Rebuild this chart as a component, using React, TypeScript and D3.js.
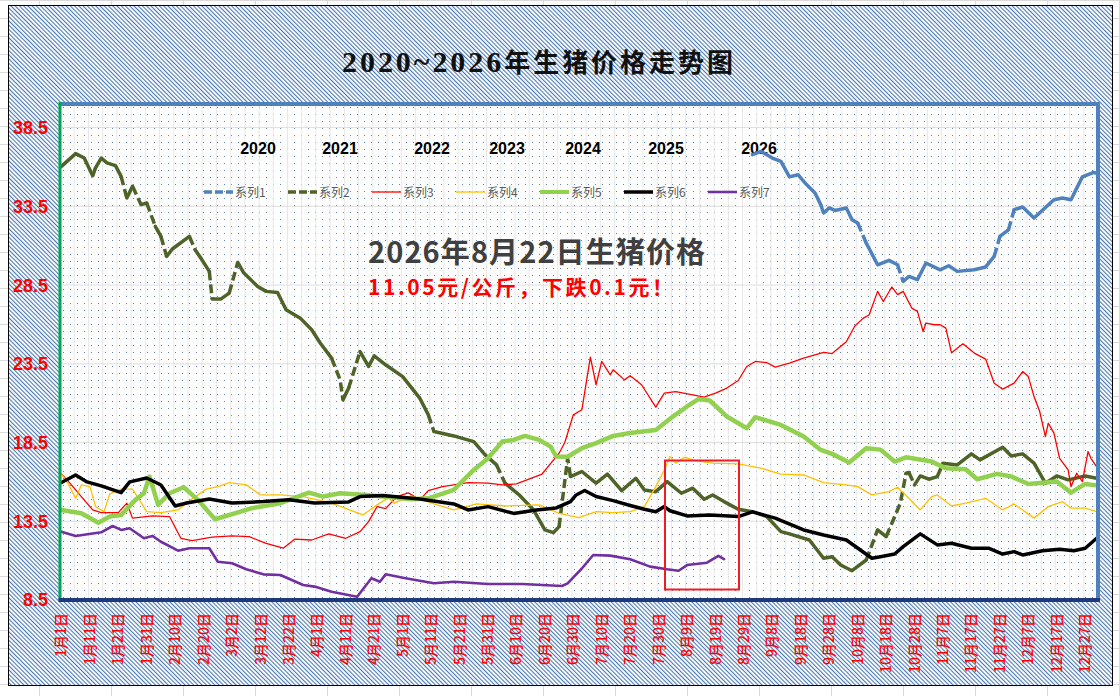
import React from 'react';
import * as d3 from 'd3';

// ---- data (day index 0..364, price 元/公斤) ----
const seriesNames = ['系列1', '系列2', '系列3', '系列4', '系列5', '系列6', '系列7'];
const yearLabels = ['2020', '2021', '2022', '2023', '2024', '2025', '2026'];
const yTicks = [8.5, 13.5, 18.5, 23.5, 28.5, 33.5, 38.5];
const dateLabels = [
    '1月1日', '1月11日', '1月21日', '1月31日', '2月10日', '2月20日', '3月2日', '3月12日', '3月22日',
    '4月1日', '4月11日', '4月21日', '5月1日', '5月11日', '5月21日', '5月31日', '6月10日', '6月20日',
    '6月30日', '7月10日', '7月20日', '7月30日', '8月9日', '8月19日', '8月29日', '9月8日', '9月18日',
    '9月28日', '10月8日', '10月18日', '10月28日', '11月7日', '11月17日', '11月27日', '12月7日',
    '12月17日', '12月27日',
];

type Pt = [number, number];

const s1: Pt[] = [
    [243, 36.78], [246, 36.99], [250, 36.57], [253, 36.36], [256, 35.37], [259, 35.51], [262, 34.88],
    [265, 34.35], [267, 33.61], [268, 33.08], [270, 33.4], [272, 33.24], [276, 33.4], [278, 32.65],
    [280, 32.44], [283, 31.17], [287, 29.79], [291, 30.07], [294, 29.79], [296, 28.73], [298, 29.05],
    [301, 28.84], [304, 29.9], [309, 29.47], [312, 29.73], [315, 29.37], [321, 29.47], [325, 29.65],
    [328, 30.32], [330, 31.59], [333, 32.0], [335, 33.29], [338, 33.46], [342, 32.76], [349, 33.92],
    [352, 34.03], [355, 33.92], [359, 35.37], [363, 35.66], [364, 35.6],
];

const s2: Pt[] = [
    [0, 36.04], [5, 36.85], [8, 36.57], [11, 35.45], [12, 35.94], [14, 36.57], [16, 36.26], [19, 36.09],
    [21, 35.4], [23, 34.03], [25, 34.77], [28, 33.61], [30, 33.71], [33, 32.23], [35, 31.59], [37, 30.32],
    [39, 30.79], [45, 31.59], [47, 30.75], [49, 30.22], [52, 29.37], [53, 27.61], [56, 27.61], [59, 27.99],
    [62, 29.94], [64, 29.3], [69, 28.41], [72, 28.1], [76, 28.03], [79, 26.93], [84, 26.4], [88, 25.66],
    [91, 24.82], [95, 23.86], [98, 22.48], [99, 21.21], [101, 21.96], [105, 24.28], [108, 23.33],
    [110, 24.01], [114, 23.44], [120, 22.69], [126, 21.32], [129, 20.26], [131, 19.2], [138, 18.92],
    [145, 18.56], [149, 17.72], [153, 17.08], [156, 15.92], [161, 15.17], [166, 14.22], [170, 12.95],
    [173, 12.78], [175, 13.16], [178, 17.5], [179, 16.34], [183, 16.66], [188, 15.92], [192, 16.5],
    [197, 15.45], [202, 16.23], [205, 15.49], [209, 15.38], [213, 16.02], [218, 15.28], [222, 15.6],
    [226, 14.9], [229, 15.17], [233, 14.75], [238, 14.26], [243, 14.11], [248, 13.8], [253, 12.84],
    [256, 12.7], [263, 12.31], [268, 11.15], [271, 11.25], [274, 10.72], [278, 10.36], [283, 11.04],
    [287, 12.95], [290, 12.52], [295, 14.65], [297, 16.55], [298, 16.6], [300, 15.81], [302, 16.38],
    [305, 16.17], [308, 16.34], [310, 17.19], [315, 17.08], [320, 17.78], [323, 17.4], [331, 18.2],
    [334, 17.65], [338, 17.78], [342, 17.19], [346, 15.92], [350, 16.38], [354, 16.13], [360, 16.38],
    [364, 16.23],
];

const s3: Pt[] = [
    [0, 16.5], [3, 15.92], [7, 15.07], [11, 14.22], [14, 14.05], [20, 14.05], [23, 14.65], [25, 13.7],
    [32, 13.84], [38, 13.8], [42, 12.42], [46, 12.27], [53, 12.49], [60, 12.57], [66, 12.52], [72, 12.1],
    [78, 11.79], [82, 12.36], [88, 12.31], [94, 12.7], [100, 12.42], [105, 12.84], [108, 13.48],
    [111, 14.43], [114, 14.3], [118, 15.07], [122, 15.3], [126, 14.86], [129, 15.45], [134, 15.7],
    [143, 15.96], [150, 15.92], [155, 15.81], [160, 15.87], [169, 16.5], [174, 17.61], [175, 17.82],
    [177, 18.5], [180, 20.26], [183, 20.58], [186, 23.93], [188, 22.17], [190, 23.65], [193, 22.8],
    [194, 23.12], [198, 22.48], [200, 22.74], [204, 22.17], [209, 20.75], [212, 21.64], [216, 21.74],
    [222, 21.53], [226, 21.38], [230, 21.64], [234, 21.96], [238, 22.44], [241, 23.33], [244, 23.65],
    [248, 23.58], [251, 23.29], [256, 23.54], [261, 23.86], [268, 24.22], [271, 24.15], [276, 24.9],
    [279, 25.9], [282, 26.4], [284, 26.6], [287, 28.1], [289, 27.46], [292, 28.38], [294, 27.89],
    [296, 28.1], [299, 27.04], [301, 26.83], [303, 25.55], [304, 26.09], [307, 25.98], [309, 25.98],
    [311, 25.77], [313, 24.2], [317, 24.77], [321, 24.18], [325, 23.8], [328, 22.27], [331, 21.89],
    [335, 22.27], [338, 23.01], [340, 22.69], [342, 21.42], [344, 20.47], [346, 18.88], [347, 19.73],
    [349, 19.1], [351, 17.5], [354, 16.76], [355, 15.7], [357, 16.55], [359, 16.02], [361, 17.93],
    [362, 17.5], [364, 16.97],
];

const s4: Pt[] = [
    [0, 16.5], [2, 16.0], [5, 14.96], [7, 15.81], [10, 15.7], [12, 14.43], [15, 14.11], [17, 15.24],
    [21, 15.54], [25, 15.54], [30, 14.11], [35, 14.05], [41, 14.22], [45, 14.81], [51, 15.54], [55, 15.7],
    [59, 15.96], [65, 15.81], [70, 15.17], [77, 15.17], [85, 15.07], [95, 14.65], [106, 13.9],
    [111, 14.54], [115, 15.0], [117, 14.65], [123, 15.11], [132, 14.54], [138, 14.22], [146, 14.6],
    [156, 14.47], [168, 14.54], [175, 14.0], [182, 13.73], [188, 14.11], [194, 14.05], [200, 14.11],
    [205, 14.43], [209, 15.7], [212, 16.76], [214, 17.61], [216, 17.19], [219, 17.56], [223, 17.35],
    [229, 17.19], [238, 17.15], [246, 16.87], [253, 16.5], [261, 16.44], [268, 15.96], [276, 15.81],
    [280, 15.7], [285, 15.17], [291, 15.38], [294, 15.66], [298, 14.96], [302, 14.22], [306, 15.07],
    [308, 15.17], [313, 14.47], [318, 14.65], [325, 14.96], [331, 14.22], [335, 14.6], [342, 13.7],
    [347, 14.43], [352, 14.75], [355, 14.33], [360, 14.33], [364, 14.11],
];

const s5: Pt[] = [
    [0, 14.22], [7, 14.01], [13, 13.41], [17, 13.8], [21, 13.9], [26, 14.86], [29, 15.28], [31, 16.34],
    [34, 14.54], [38, 15.28], [43, 15.66], [48, 14.86], [54, 13.63], [63, 14.11], [67, 14.33],
    [77, 14.65], [87, 15.32], [92, 15.07], [98, 15.28], [107, 15.17], [113, 15.07], [123, 14.9],
    [129, 14.96], [138, 15.5], [145, 16.76], [150, 17.5], [155, 18.56], [159, 18.67], [163, 18.92],
    [168, 18.67], [172, 18.24], [174, 17.61], [178, 17.6], [183, 18.14], [188, 18.46], [194, 18.92],
    [200, 19.1], [209, 19.3], [215, 20.15], [220, 20.79], [224, 21.26], [228, 21.17], [234, 20.15],
    [241, 19.41], [244, 20.11], [253, 19.62], [261, 18.88], [267, 18.03], [271, 17.78], [277, 17.23],
    [283, 18.14], [288, 18.05], [293, 17.29], [297, 17.56], [306, 17.29], [311, 16.87], [318, 16.8],
    [322, 16.17], [329, 16.51], [334, 16.34], [340, 15.87], [350, 16.02], [355, 15.32], [360, 15.87],
    [364, 15.78],
];

const s6: Pt[] = [
    [0, 15.96], [5, 16.44], [9, 16.0], [14, 15.75], [21, 15.32], [24, 16.0], [30, 16.25], [35, 15.8],
    [40, 14.47], [44, 14.66], [52, 14.92], [60, 14.66], [71, 14.75], [80, 14.86], [89, 14.66],
    [101, 14.73], [105, 15.07], [113, 15.13], [126, 14.92], [138, 14.6], [143, 14.22], [150, 14.43],
    [159, 14.0], [167, 14.22], [174, 14.35], [179, 14.75], [181, 15.17], [184, 15.45], [188, 15.07],
    [194, 14.81], [200, 14.5], [205, 14.26], [209, 14.11], [212, 14.43], [214, 14.17], [220, 13.84],
    [228, 13.9], [238, 13.8], [243, 14.1], [251, 13.7], [261, 12.95], [268, 12.63], [276, 12.31],
    [285, 11.15], [288, 11.25], [293, 11.42], [296, 11.89], [302, 12.7], [308, 12.0], [313, 12.1],
    [320, 11.79], [326, 11.79], [331, 11.42], [335, 11.57], [338, 11.36], [345, 11.63], [351, 11.72],
    [356, 11.63], [360, 11.79], [364, 12.42],
];

const s7: Pt[] = [
    [0, 12.84], [5, 12.57], [14, 12.8], [18, 13.2], [21, 12.95], [24, 13.06], [29, 12.42], [32, 12.57],
    [35, 12.2], [41, 11.63], [45, 11.79], [52, 11.79], [55, 10.93], [60, 10.83], [65, 10.45],
    [71, 10.13], [77, 10.09], [85, 9.45], [89, 9.35], [95, 9.03], [104, 8.71], [109, 9.88], [112, 9.66],
    [114, 10.13], [121, 9.88], [131, 9.56], [138, 9.66], [150, 9.52], [162, 9.52], [176, 9.39],
    [178, 9.56], [183, 10.5], [187, 11.36], [193, 11.32], [200, 11.09], [207, 10.62], [213, 10.45],
    [217, 10.36], [220, 10.72], [227, 10.87], [231, 11.3], [233, 11.09],
];

const allSeries = [s1, s2, s3, s4, s5, s6, s7];

const seriesStyle = [
    {color: '#4f81bd', width: 3.5, dashed: true},
    {color: '#4f6228', width: 3.5, dashed: true},
    {color: '#ff0000', width: 1.3, dashed: false},
    {color: '#ffc000', width: 1.3, dashed: false},
    {color: '#92d050', width: 4.5, dashed: false},
    {color: '#000000', width: 3.5, dashed: false},
    {color: '#7030a0', width: 2.6, dashed: false},
];

// ---- layout ----
const W = 1120;
const H = 696;
const plot = {left: 60, right: 1098, top: 104, bottom: 600};
const yearLabelX = [258, 340, 432, 507, 583, 666, 759];

const cjk = '"Noto Sans CJK SC", "Noto Sans", sans-serif';

const x = d3.scaleLinear().domain([-0.5, 364.5]).range([plot.left, plot.right]);
const y = d3.scaleLinear().domain([8.5, 40]).range([plot.bottom, plot.top]);
const line = d3.line<Pt>().x(d => x(d[0])).y(d => y(d[1])).curve(d3.curveLinear);

// Excel draws its dash pattern per segment, so only steep stretches show gaps
function splitRuns(data: Pt[]) {
    const out: { pts: Pt[]; dashed: boolean }[] = [];
    for (let i = 0; i < data.length - 1; i++) {
        const a = data[i], b = data[i + 1];
        const perDay = Math.abs(y(b[1]) - y(a[1])) / (b[0] - a[0]);
        const dashed = perDay > 6;
        const last = out[out.length - 1];
        if (last && last.dashed === dashed) last.pts.push(b);
        else out.push({pts: [a, b], dashed});
    }
    return out;
}

export default function App() {
    const vGrid = d3.range(1, 73).map(k => x(k * 5 - 0.5));
    const sheetCols = d3.range(0, 16).map(k => 39 + k * 72);
    const sheetRows = d3.range(0, 40).map(k => k * 18);

    return (
        <svg width={W} height={H} viewBox={`0 0 ${W} ${H}`}
             style={{position: 'absolute', left: 0, top: 0, background: '#fff'}}>
            <defs>
                <pattern id="hatch" width="3" height="3" patternUnits="userSpaceOnUse"
                         patternTransform="rotate(-45)">
                    <rect width="3" height="3" fill="#ffffff"/>
                    <rect width="1.1" height="3" fill="#4a78b6"/>
                </pattern>
                <pattern id="dots" x={plot.left} y={plot.top} width="7" height="7" patternUnits="userSpaceOnUse">
                    <rect width="7" height="7" fill="#ffffff"/>
                    <rect x="3" y="3" width="1" height="1" fill="#5b7fc0"/>
                </pattern>
            </defs>

            {/* spreadsheet cells behind the chart */}
            {sheetRows.map(r => <line key={'r' + r} x1={0} x2={W} y1={r + 0.5} y2={r + 0.5} stroke="#dadada"/>)}
            {sheetCols.map(c => <line key={'c' + c} x1={c + 0.5} x2={c + 0.5} y1={0} y2={H} stroke="#dadada"/>)}

            {/* chart area */}
            <rect x={8.5} y={5.5} width={1104} height={680} fill="url(#hatch)" stroke="#000" strokeWidth={1}/>

            {/* plot area */}
            <rect x={plot.left} y={plot.top} width={plot.right - plot.left} height={plot.bottom - plot.top}
                  fill="url(#dots)"/>
            {vGrid.map((gx, i) => (
                <line key={'v' + i} x1={gx} x2={gx} y1={plot.top} y2={plot.bottom} stroke="#e8e8e8" strokeWidth={1}/>
            ))}
            {yTicks.map(t => (
                <line key={'h' + t} x1={plot.left} x2={plot.right} y1={y(t)} y2={y(t)} stroke="#dedede" strokeWidth={1}/>
            ))}

            {/* title */}
            <text x={342} y={72} textLength={391} lengthAdjust="spacing"
                  style={{fontWeight: 700, fill: '#111'}}>
                <tspan style={{fontFamily: '"Liberation Serif", serif', fontSize: 30}}>2020~2026</tspan>
                <tspan style={{fontFamily: cjk, fontSize: 26}}>年生猪价格走势图</tspan>
            </text>

            {/* year labels */}
            {yearLabels.map((t, i) => (
                <text key={t} x={yearLabelX[i]} y={154} textAnchor="middle"
                      style={{fontFamily: '"Liberation Sans", Arial, sans-serif', fontWeight: 700, fontSize: 16, fill: '#000'}}>
                    {t}
                </text>
            ))}

            {/* legend */}
            {seriesNames.map((name, i) => {
                const lx = 204 + i * 84;
                const st = seriesStyle[i];
                return (
                    <g key={name}>
                        <line x1={lx} x2={lx + 29} y1={192} y2={192} stroke={st.color}
                              strokeWidth={Math.min(st.width, 4)} strokeDasharray={st.dashed ? '8,3' : undefined}/>
                        <text x={lx + 31} y={196.5} style={{fontFamily: cjk, fontSize: 12, fill: '#595959'}}>{name}</text>
                    </g>
                );
            })}

            {/* series */}
            {allSeries.map((data, i) => {
                const st = seriesStyle[i];
                if (!st.dashed) {
                    return <path key={i} d={line(data) || ''} fill="none" stroke={st.color} strokeWidth={st.width}
                                 strokeLinejoin="round" strokeLinecap="round"/>;
                }
                return (
                    <g key={i}>
                        {splitRuns(data).map((r, j) => (
                            <path key={j} d={line(r.pts) || ''} fill="none" stroke={st.color} strokeWidth={st.width}
                                  strokeLinejoin="round" strokeLinecap={r.dashed ? 'butt' : 'round'}
                                  strokeDasharray={r.dashed ? '9,4' : undefined}/>
                        ))}
                    </g>
                );
            })}

            {/* annotation */}
            <text x={368} y={263} textLength={337} lengthAdjust="spacing"
                  style={{fontFamily: cjk, fontWeight: 700, fontSize: 29, fill: '#404040'}}>
                2026年8月22日生猪价格
            </text>
            <text x={368} y={295} textLength={305} lengthAdjust="spacing"
                  style={{fontFamily: cjk, fontWeight: 700, fontSize: 21, fill: '#ff0000'}}>
                11.05元/公斤，下跌0.1元！
            </text>
            <rect x={665} y={460.5} width={74} height={129} fill="none" stroke="#ee1c24" strokeWidth={2}/>

            {/* plot borders */}
            <line x1={plot.left} x2={plot.right + 2} y1={plot.top} y2={plot.top} stroke="#4f81bd" strokeWidth={4}/>
            <line x1={plot.right} x2={plot.right} y1={plot.top - 2} y2={plot.bottom} stroke="#4f81bd" strokeWidth={4}/>
            <line x1={plot.left} x2={plot.left} y1={plot.top - 2} y2={plot.bottom} stroke="#00a650" strokeWidth={3}/>
            <line x1={plot.left - 1.5} x2={plot.right + 2} y1={plot.bottom} y2={plot.bottom} stroke="#1f3a7a" strokeWidth={4}/>

            {/* y axis labels */}
            {yTicks.map(t => (
                <text key={'y' + t} x={48} y={y(t)} dy="0.36em" textAnchor="end"
                      style={{fontFamily: '"Liberation Sans", Arial, sans-serif', fontWeight: 700, fontSize: 18, fill: '#ff0000'}}>
                    {t.toFixed(1)}
                </text>
            ))}

            {/* x axis labels */}
            {dateLabels.map((lab, i) => {
                const gx = x(i * 10);
                return (
                    <text key={lab} transform={`translate(${gx},613) rotate(-90)`} dy="0.36em" textAnchor="end"
                          style={{fontFamily: cjk, fontSize: 14, fontWeight: 500, fill: '#ff0000'}}>
                        {lab}
                    </text>
                );
            })}
        </svg>
    );
}
